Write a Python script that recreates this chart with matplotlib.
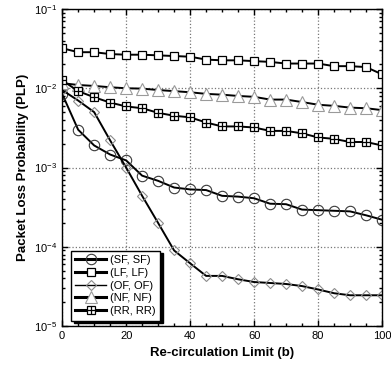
import numpy as np
import matplotlib
matplotlib.use('Agg')
import matplotlib.pyplot as plt
from matplotlib.ticker import MultipleLocator, LogLocator, NullFormatter

plt.rcParams['font.family'] = ['Liberation Sans', 'DejaVu Sans']
plt.rcParams['mathtext.fontset'] = 'custom'
plt.rcParams['mathtext.rm'] = 'Liberation Sans'
plt.rcParams['mathtext.default'] = 'regular'

b = np.arange(0, 101, 5)

plp_sf = [8.5e-3, 3.0e-3, 1.9e-3, 1.46e-3, 1.23e-3, 7.9e-4, 6.8e-4, 5.6e-4,
          5.3e-4, 5.2e-4, 4.4e-4, 4.3e-4, 4.1e-4, 3.5e-4, 3.45e-4, 2.95e-4,
          2.9e-4, 2.85e-4, 2.8e-4, 2.5e-4, 2.2e-4]
plp_lf = [3.2e-2, 2.85e-2, 2.85e-2, 2.7e-2, 2.65e-2, 2.65e-2, 2.6e-2, 2.55e-2,
          2.5e-2, 2.3e-2, 2.25e-2, 2.25e-2, 2.2e-2, 2.15e-2, 2.05e-2, 2.05e-2,
          2.05e-2, 1.9e-2, 1.9e-2, 1.85e-2, 1.5e-2]
plp_of = [9.5e-3, 7.0e-3, 5.0e-3, 2.2e-3, 1.0e-3, 4.4e-4, 2.0e-4, 9.0e-5,
          6.2e-5, 4.3e-5, 4.3e-5, 3.9e-5, 3.6e-5, 3.5e-5, 3.4e-5, 3.2e-5,
          2.9e-5, 2.6e-5, 2.45e-5, 2.45e-5, 2.45e-5]
plp_nf = [1.16e-2, 1.1e-2, 1.07e-2, 1.03e-2, 1.0e-2, 9.9e-3, 9.5e-3, 9.2e-3,
          8.9e-3, 8.5e-3, 8.3e-3, 8.0e-3, 7.8e-3, 7.2e-3, 7.2e-3, 6.7e-3,
          6.2e-3, 6.0e-3, 5.7e-3, 5.6e-3, 5.3e-3]
plp_rr = [1.26e-2, 9.2e-3, 7.7e-3, 6.6e-3, 5.9e-3, 5.6e-3, 4.9e-3, 4.5e-3,
          4.3e-3, 3.7e-3, 3.3e-3, 3.3e-3, 3.2e-3, 2.9e-3, 2.9e-3, 2.7e-3,
          2.4e-3, 2.3e-3, 2.1e-3, 2.1e-3, 1.9e-3]

fig = plt.figure(figsize=(3.91, 3.74), dpi=100)
ax = fig.add_axes([0.159, 0.128, 0.818, 0.848])

lw = 1.4
h_sf, = ax.plot(b, plp_sf, '-', color='black', lw=lw, marker='o', ms=7.5,
                mfc='none', mec='#3a3a3a', mew=0.8)
h_lf, = ax.plot(b, plp_lf, '-', color='black', lw=lw, marker='s', ms=6,
                mfc='white', mec='black', mew=0.9)
h_of, = ax.plot(b, plp_of, '-', color='black', lw=lw, marker='D', ms=5,
                mfc='none', mec='#8c8c8c', mew=0.8)
h_nf, = ax.plot(b, plp_nf, '-', color='black', lw=lw, marker='^', ms=8,
                mfc='white', mec='#9a9a9a', mew=0.8)
h_rr, = ax.plot(b, plp_rr, '-', color='black', lw=lw, marker='s', ms=6,
                mfc='white', mec='black', mew=0.9)
h_rr2, = ax.plot(b, plp_rr, ls='none', marker='+', ms=6, mec='black', mew=0.9)

ax.set_yscale('log')
ax.set_xlim(0, 100)
ax.set_ylim(1e-5, 1e-1)
ax.set_xticks([0, 20, 40, 60, 80, 100])
ax.xaxis.set_minor_locator(MultipleLocator(5))
ax.yaxis.set_major_locator(LogLocator(base=10, numticks=10))
ax.yaxis.set_minor_locator(LogLocator(base=10, subs=np.arange(2, 10), numticks=10))
ax.yaxis.set_minor_formatter(NullFormatter())
ax.tick_params(which='both', direction='in', top=True, right=True,
               labelsize=8)
ax.tick_params(which='major', length=4, width=1)
ax.tick_params(which='minor', length=2.5, width=1)
ax.grid(True, which='major', ls=':', color='#777777', lw=0.9)
for s in ax.spines.values():
    s.set_linewidth(1.0)

ax.set_xlabel('Re-circulation Limit (b)', fontsize=9.5, fontweight='bold')
ax.set_ylabel('Packet Loss Probability (PLP)', fontsize=9.5, fontweight='bold')

leg = ax.legend([h_sf, h_lf, h_of, h_nf, (h_rr, h_rr2)],
                ['(SF, SF)', '(LF, LF)', '(OF, OF)', '(NF, NF)', '(RR, RR)'],
                loc='lower left', fontsize=8, handlelength=2.8,
                labelspacing=0.25, borderpad=0.4, handletextpad=0.3,
                fancybox=False, framealpha=1, edgecolor='black',
                shadow={'color': 'black', 'alpha': 1}, bbox_to_anchor=(0.01, 0.0))
leg.get_frame().set_linewidth(1.0)
leg_lines = leg.get_lines()
for ln in leg_lines:
    ln.set_linewidth(2.2)
leg_lines[2].set_linewidth(1.0)

fig.savefig('out.png', dpi=100)
